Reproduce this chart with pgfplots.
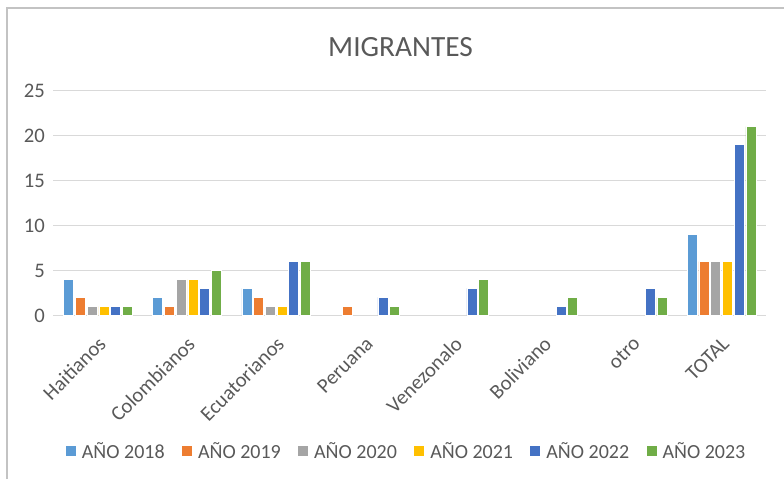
\documentclass[border=0pt]{standalone}
\usepackage{fontspec}
\setmainfont{Carlito}
\usepackage{pgfplots}
\pgfplotsset{compat=1.18}
\definecolor{c2018}{HTML}{5B9BD5}
\definecolor{c2019}{HTML}{ED7D31}
\definecolor{c2020}{HTML}{A5A5A5}
\definecolor{c2021}{HTML}{FFC000}
\definecolor{c2022}{HTML}{4472C4}
\definecolor{c2023}{HTML}{70AD47}
\definecolor{txt}{HTML}{595959}
\definecolor{grd}{HTML}{D9D9D9}
\begin{document}
\begin{tikzpicture}[x=0.75pt,y=0.75pt]
% picture frame 784 x 479 px
\path[use as bounding box] (0,0) rectangle (784,479);
\draw[grd!90!black, line width=1.2pt] (7,0) -- (7,471) -- (784,471);
\begin{axis}[
  at={(60,182)}, anchor=south west,
  scale only axis,
  width=534.5pt, height=168.5pt,
  ybar=1.3pt, bar width=7.5pt,
  xmin=-0.5, xmax=7.5,
  ymin=0, ymax=25,
  xtick={0,...,7},
  xticklabels={Haitianos,Colombianos,Ecuatorianos,Peruana,Venezonalo,Boliviano,otro,TOTAL},
  ytick={0,5,...,25},
  axis x line*=bottom,
  axis y line*=left,
  x axis line style={grd, line width=1.2pt},
  y axis line style={draw=none},
  major tick length=0pt,
  ymajorgrids,
  grid style={grd, line width=1pt},
  tick label style={font=\fontsize{15.5}{18}\selectfont, text=txt},
  /pgf/number format/assume math mode=true,
  yticklabel style={xshift=-3pt},
  xticklabel style={rotate=45, anchor=east, xshift=-7.6pt, yshift=-15.5pt},
  title={MIGRANTES},
  title style={at={(0.487,1.157)}, anchor=center,
    font=\fontsize{22}{26}\selectfont, text=txt},
  legend columns=6,
  legend style={at={(0.496,-0.605)}, anchor=center, draw=none,
    font=\fontsize{15}{18}\selectfont, text=txt,
    /tikz/every odd column/.append style={column sep=2.5pt},
    /tikz/every even column/.append style={column sep=11pt}},
  legend image code/.code={\fill[#1, draw=none] (0pt,-3.75pt) rectangle (7.5pt,3.75pt);},
  every axis plot/.append style={draw=white, line width=0.4pt},
]
\addplot[fill=c2018] coordinates {(0,4) (1,2) (2,3) (7,9)};
\addlegendentry{AÑO 2018}
\addplot[fill=c2019] coordinates {(0,2) (1,1) (2,2) (3,1) (7,6)};
\addlegendentry{AÑO 2019}
\addplot[fill=c2020] coordinates {(0,1) (1,4) (2,1) (7,6)};
\addlegendentry{AÑO 2020}
\addplot[fill=c2021] coordinates {(0,1) (1,4) (2,1) (7,6)};
\addlegendentry{AÑO 2021}
\addplot[fill=c2022] coordinates {(0,1) (1,3) (2,6) (3,2) (4,3) (5,1) (6,3) (7,19)};
\addlegendentry{AÑO 2022}
\addplot[fill=c2023] coordinates {(0,1) (1,5) (2,6) (3,1) (4,4) (5,2) (6,2) (7,21)};
\addlegendentry{AÑO 2023}
\end{axis}
\end{tikzpicture}
\end{document}
